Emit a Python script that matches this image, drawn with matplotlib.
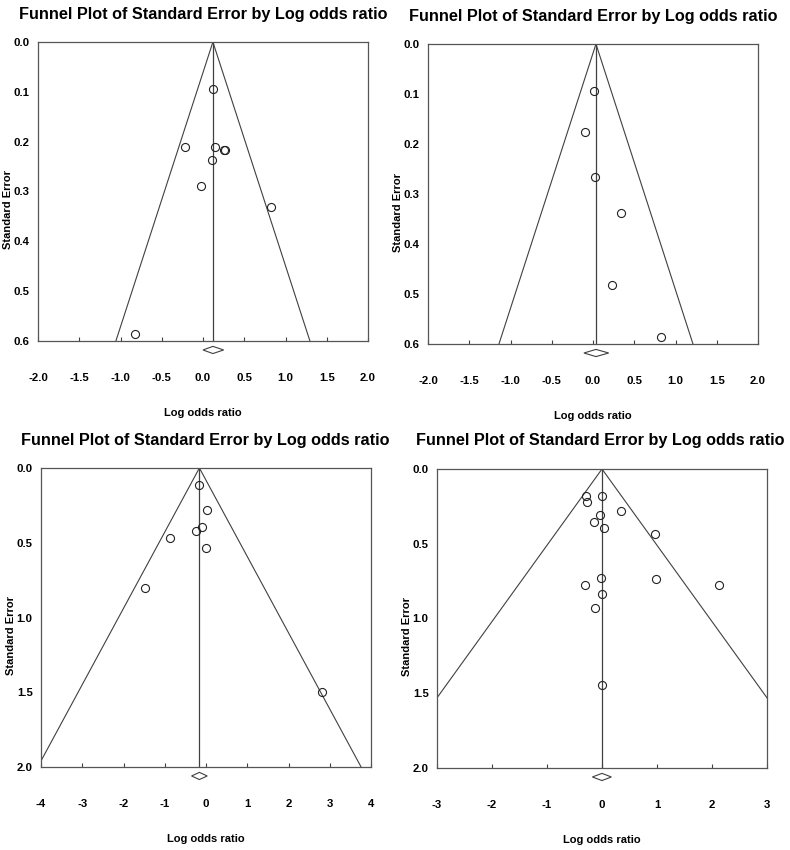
import numpy as np
import matplotlib
matplotlib.use('Agg')
import matplotlib.pyplot as plt
import matplotlib.transforms as mtransforms
from matplotlib.patches import Polygon

plt.rcParams['font.family'] = ['Liberation Sans', 'DejaVu Sans']
plt.rcParams['font.weight'] = 'bold'

title = 'Funnel Plot of Standard Error by Log odds ratio'
xlabel = 'Log odds ratio'
ylabel = 'Standard Error'

# panel A (top left)
lor_a = [0.125, -0.22, 0.145, 0.25, 0.27, 0.115, -0.02, 0.83, -0.83]
se_a = [0.095, 0.210, 0.210, 0.216, 0.216, 0.237, 0.288, 0.331, 0.586]
pool_a = [0.12, 0.0, 0.25]          # estimate, lower, upper

# panel B (top right)
lor_b = [0.012, -0.10, 0.024, 0.34, 0.23, 0.83]
se_b = [0.094, 0.175, 0.265, 0.337, 0.482, 0.586]
pool_b = [0.036, -0.11, 0.19]

# panel C (bottom left)
lor_c = [-0.16, 0.024, -0.097, -0.235, -0.88, 0.008, -1.48, 2.82]
se_c = [0.112, 0.279, 0.397, 0.419, 0.468, 0.538, 0.805, 1.498]
pool_c = [-0.16, -0.35, 0.03]

# panel D (bottom right)
lor_d = [-0.30, -0.27, 0.007, 0.35, -0.03, -0.145, 0.036, 0.964,
         -0.011, 0.98, 2.12, -0.31, 0.007, -0.127, 0.0]
se_d = [0.181, 0.223, 0.181, 0.279, 0.310, 0.353, 0.397, 0.438,
        0.728, 0.735, 0.775, 0.775, 0.833, 0.933, 1.447]
pool_d = [0.0, -0.175, 0.17]

xticks_ab = [-2.0, -1.5, -1.0, -0.5, 0.0, 0.5, 1.0, 1.5, 2.0]
xticks_c = [-4, -3, -2, -1, 0, 1, 2, 3, 4]
xticks_d = [-3, -2, -1, 0, 1, 2, 3]
yticks_ab = [0.0, 0.1, 0.2, 0.3, 0.4, 0.5, 0.6]
yticks_cd = [0.0, 0.5, 1.0, 1.5, 2.0]

W, H = 790, 850
fig = plt.figure(figsize=(W / 100, H / 100), dpi=100)

line_col = '#404040'

panels = [
    # data, pooled, xticks, xfmt, yticks, box (l, t, r, b px), title centre (x, y px)
    (lor_a, se_a, pool_a, xticks_ab, '%.1f', yticks_ab, (38, 42, 368, 341), (203, 14)),
    (lor_b, se_b, pool_b, xticks_ab, '%.1f', yticks_ab, (428, 44, 758, 344), (593, 16)),
    (lor_c, se_c, pool_c, xticks_c, '%d', yticks_cd, (41, 468, 371, 767), (205, 440)),
    (lor_d, se_d, pool_d, xticks_d, '%d', yticks_cd, (437, 469, 767, 768), (600, 440)),
]

for lor, se, pool, xt, xfmt, yt, box, tpos in panels:
    l, t, r, b = box
    ax = fig.add_axes([l / W, 1 - b / H, (r - l) / W, (b - t) / H])
    xmin, xmax = xt[0], xt[-1]
    semax = yt[-1]
    ax.set_xlim(xmin, xmax)
    ax.set_ylim(semax, 0)

    est = pool[0]
    # funnel and centre line
    ax.plot([est - 1.96 * semax, est, est + 1.96 * semax], [semax, 0, semax],
            color=line_col, lw=0.8)
    ax.plot([est, est], [0, semax], color=line_col, lw=0.9)

    ax.plot(lor, se, 'o', mfc='none', mec='#222222', ms=5.8, mew=0.8)

    # pooled diamond below the axis
    trans = mtransforms.blended_transform_factory(ax.transData, ax.transAxes)
    yc, hh = -0.03, 0.012
    dia = Polygon([(pool[1], yc), (est, yc + hh), (pool[2], yc), (est, yc - hh)],
                  closed=True, fill=False, ec=line_col, lw=0.8,
                  transform=trans, clip_on=False)
    ax.add_patch(dia)

    ax.set_xticks(xt)
    ax.set_xticklabels([xfmt % v for v in xt])
    ax.set_yticks(yt)
    ax.set_yticklabels(['%.1f' % v for v in yt])
    ax.tick_params(axis='x', direction='in', length=3, width=0.8, color=line_col,
                   pad=23, labelsize=8.2)
    ax.tick_params(axis='y', length=0, pad=6, labelsize=8.2)
    for lab in ax.get_xticklabels() + ax.get_yticklabels():
        lab.set_fontweight('bold')

    for sp in ax.spines.values():
        sp.set_color('#555555')
        sp.set_linewidth(0.9)

    ax.set_ylabel(ylabel, fontsize=8, fontweight='bold')
    ax.yaxis.set_label_coords(-0.075, 0.44)
    ax.set_xlabel(xlabel, fontsize=8, fontweight='bold', va='center')
    ax.xaxis.set_label_coords(0.5, -0.24)

    fig.text(tpos[0] / W, 1 - tpos[1] / H, title, ha='center', va='center',
             fontsize=11.7, fontweight='bold')

fig.savefig('out.png', dpi=100)
